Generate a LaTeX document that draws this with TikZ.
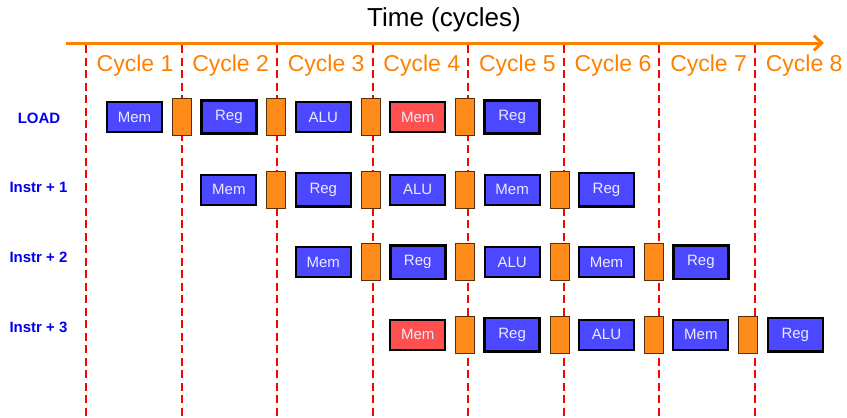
\documentclass[tikz,border=0pt]{standalone}
\usepackage{fontspec}
\setmainfont{Liberation Sans}
\usetikzlibrary{arrows.meta}
\definecolor{boxblue}{RGB}{76,72,255}
\definecolor{boxred}{RGB}{255,80,80}
\definecolor{latchor}{RGB}{255,140,26}
\definecolor{timeor}{RGB}{255,128,0}
\definecolor{lblblue}{RGB}{0,0,240}
\definecolor{boxtext}{RGB}{235,235,255}
\tikzset{
  stage/.style={draw=black, line width=2pt, fill=boxblue, minimum width=55pt, minimum height=30pt, inner sep=0pt, text=boxtext, font=\fontsize{15}{15}\selectfont},
  regstage/.style={stage, line width=2.6pt, minimum height=33.5pt},
  hazard/.style={stage, fill=boxred},
  latch/.style={draw=black!65!latchor, line width=1pt, fill=latchor, minimum width=19pt, minimum height=37pt, inner sep=0pt},
  cyc/.style={text=timeor, font=\fontsize{23}{23}\selectfont, anchor=base, inner sep=0pt},
  rowlbl/.style={text=lblblue, font=\bfseries\fontsize{15}{15}\selectfont, anchor=base, inner sep=0pt},
  cyclesep/.style={red, line width=2pt, dash pattern=on 8pt off 4.5pt},
  timearrow/.style={timeor, line width=3pt, -{Straight Barb[length=8pt,width=15pt]}},
}
\begin{document}
\begin{tikzpicture}[x=1pt,y=-1pt]
\useasboundingbox (0,0) rectangle (847,418);
% cycle separators
\foreach \k in {0,...,7} {
  \draw[cyclesep] ({86+95.5*\k},45) -- ({86+95.5*\k},418);
}
% time axis
\coordinate (tstart) at (66,43);
\coordinate (tend) at (824,43);
\draw[timearrow] (tstart) -- (tend);
\node[anchor=base, inner sep=0pt, font=\fontsize{26}{26}\selectfont] (title) at (444,26.7) {Time (cycles)};
\foreach \k in {1,...,8} {
  \node[cyc] (cyc\k) at ({135+95.6*(\k-1)},71.5) {Cycle \k};
}
% row labels
\node[rowlbl] (rl0) at (39,123.3) {LOAD};
\node[rowlbl] (rl1) at (38.5,192.7) {Instr + 1};
\node[rowlbl] (rl2) at (38.5,262.7) {Instr + 2};
\node[rowlbl] (rl3) at (38.5,332.7) {Instr + 3};
% row 0
\node[stage]    (b0-1) at (134.5,117) {Mem};
\node[regstage] (b0-2) at (228.9,117) {Reg};
\node[stage]    (b0-3) at (323.3,117) {ALU};
\node[hazard]   (b0-4) at (417.7,117) {Mem};
\node[regstage] (b0-5) at (512.1,117) {Reg};
% row 1
\node[stage]    (b1-2) at (228.9,189.7) {Mem};
\node[regstage] (b1-3) at (323.3,189.7) {Reg};
\node[stage]    (b1-4) at (417.7,189.7) {ALU};
\node[stage]    (b1-5) at (512.1,189.7) {Mem};
\node[regstage] (b1-6) at (606.5,189.7) {Reg};
% row 2
\node[stage]    (b2-3) at (323.3,262.3) {Mem};
\node[regstage] (b2-4) at (417.7,262.3) {Reg};
\node[stage]    (b2-5) at (512.1,262.3) {ALU};
\node[stage]    (b2-6) at (606.5,262.3) {Mem};
\node[regstage] (b2-7) at (700.9,262.3) {Reg};
% row 3
\node[hazard]   (b3-4) at (417.7,334.7) {Mem};
\node[regstage] (b3-5) at (512.1,334.7) {Reg};
\node[stage]    (b3-6) at (606.5,334.7) {ALU};
\node[stage]    (b3-7) at (700.9,334.7) {Mem};
\node[regstage] (b3-8) at (795.3,334.7) {Reg};
% pipeline latches
\foreach \r/\ry/\s in {0/117/1, 1/189.7/2, 2/262.3/3, 3/334.7/4} {
  \foreach \j in {0,...,3} {
    \pgfmathtruncatemacro{\c}{\s+\j}
    \node[latch] (l\r-\c) at ({182+94.4*(\c-1)},\ry) {};
  }
}
\end{tikzpicture}
\end{document}
